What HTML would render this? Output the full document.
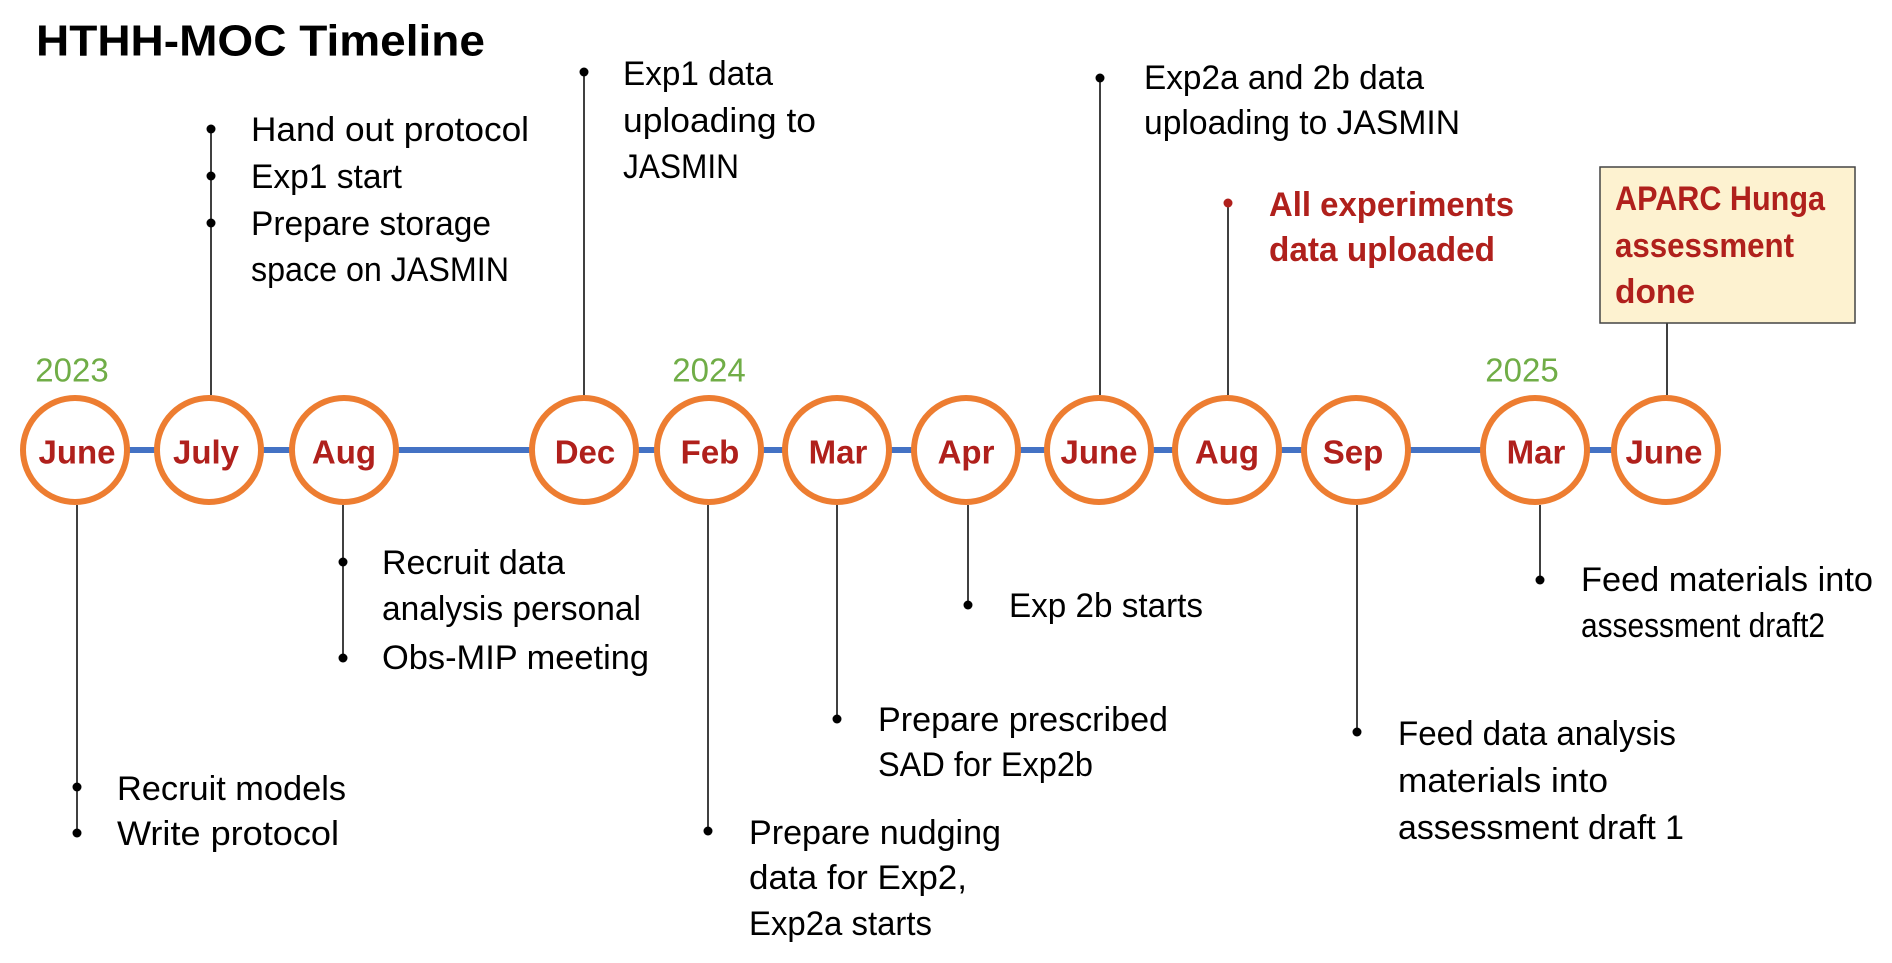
<!DOCTYPE html>
<html><head><meta charset="utf-8"><style>
html,body{margin:0;padding:0;background:#fff;width:1892px;height:963px;overflow:hidden}
svg text{font-family:"Liberation Sans",sans-serif}
.b{font-size:34px;fill:#000}
.r{font-size:34px;fill:#B0201C;font-weight:bold}
.m{font-size:33px;fill:#B0201C;font-weight:bold}
.y{font-size:33px;fill:#70AD47}
</style></head><body>
<svg width="1892" height="963" xmlns="http://www.w3.org/2000/svg">
<text x="36" y="41" dominant-baseline="central" style="font-size:44px;font-weight:bold" textLength="449" lengthAdjust="spacingAndGlyphs">HTHH-MOC Timeline</text>
<line x1="75" y1="450" x2="1666" y2="450" stroke="#4472C4" stroke-width="6"/>
<g stroke="#000" stroke-width="1.5">
<line x1="211" y1="129" x2="211" y2="395"/>
<line x1="584" y1="72" x2="584" y2="395"/>
<line x1="1100" y1="78" x2="1100" y2="395"/>
<line x1="1228" y1="203" x2="1228" y2="395"/>
<line x1="1667" y1="323" x2="1667" y2="395"/>
<line x1="77" y1="505" x2="77" y2="833"/>
<line x1="343" y1="505" x2="343" y2="658"/>
<line x1="708" y1="505" x2="708" y2="831"/>
<line x1="837" y1="505" x2="837" y2="719"/>
<line x1="968" y1="505" x2="968" y2="605"/>
<line x1="1357" y1="505" x2="1357" y2="732"/>
<line x1="1540" y1="505" x2="1540" y2="580"/>
</g>
<g fill="#000">
<circle cx="211" cy="129" r="4.5"/><circle cx="211" cy="176" r="4.5"/><circle cx="211" cy="223" r="4.5"/>
<circle cx="584" cy="72" r="4.5"/><circle cx="1100" cy="78" r="4.5"/>
<circle cx="77" cy="787" r="4.5"/><circle cx="77" cy="833" r="4.5"/>
<circle cx="343" cy="562" r="4.5"/><circle cx="343" cy="658" r="4.5"/>
<circle cx="708" cy="831" r="4.5"/><circle cx="837" cy="719" r="4.5"/>
<circle cx="968" cy="605" r="4.5"/><circle cx="1357" cy="732" r="4.5"/>
<circle cx="1540" cy="580" r="4.5"/>
</g>
<circle cx="1228" cy="203" r="4.5" fill="#B0201C"/>
<rect x="1600" y="167" width="255" height="156" fill="#FDF2D0" stroke="#444" stroke-width="1.5"/>
<g fill="#fff" stroke="#ED7D31" stroke-width="6">
<circle cx="75" cy="450" r="52"/><circle cx="209" cy="450" r="52"/><circle cx="344" cy="450" r="52"/>
<circle cx="584" cy="450" r="52"/><circle cx="709" cy="450" r="52"/><circle cx="837" cy="450" r="52"/>
<circle cx="966" cy="450" r="52"/><circle cx="1099" cy="450" r="52"/><circle cx="1227" cy="450" r="52"/>
<circle cx="1356" cy="450" r="52"/><circle cx="1535" cy="450" r="52"/><circle cx="1666" cy="450" r="52"/>
</g>
<g text-anchor="middle" dominant-baseline="central">
<text class="m" x="77" y="452">June</text><text class="m" x="206" y="452">July</text><text class="m" x="344" y="452">Aug</text>
<text class="m" x="585" y="452">Dec</text><text class="m" x="710" y="452">Feb</text><text class="m" x="838" y="452">Mar</text>
<text class="m" x="966" y="452">Apr</text><text class="m" x="1099" y="452">June</text><text class="m" x="1227" y="452">Aug</text>
<text class="m" x="1353" y="452">Sep</text><text class="m" x="1536" y="452">Mar</text><text class="m" x="1664" y="452">June</text>
</g>
<g text-anchor="middle" dominant-baseline="central">
<text class="y" x="72" y="370">2023</text><text class="y" x="709" y="370">2024</text><text class="y" x="1522" y="370">2025</text>
</g>
<g dominant-baseline="central">
<text class="b" x="251" y="130" textLength="278" lengthAdjust="spacingAndGlyphs">Hand out protocol</text>
<text class="b" x="251" y="177" textLength="151" lengthAdjust="spacingAndGlyphs">Exp1 start</text>
<text class="b" x="251" y="224" textLength="240" lengthAdjust="spacingAndGlyphs">Prepare storage</text>
<text class="b" x="251" y="270" textLength="258" lengthAdjust="spacingAndGlyphs">space on JASMIN</text>
<text class="b" x="623" y="74" textLength="150" lengthAdjust="spacingAndGlyphs">Exp1 data</text>
<text class="b" x="623" y="121" textLength="193" lengthAdjust="spacingAndGlyphs">uploading to</text>
<text class="b" x="623" y="167" textLength="116" lengthAdjust="spacingAndGlyphs">JASMIN</text>
<text class="b" x="1144" y="78" textLength="280" lengthAdjust="spacingAndGlyphs">Exp2a and 2b data</text>
<text class="b" x="1144" y="123" textLength="316" lengthAdjust="spacingAndGlyphs">uploading to JASMIN</text>
<text class="r" x="1269" y="205" textLength="245" lengthAdjust="spacingAndGlyphs">All experiments</text>
<text class="r" x="1269" y="250" textLength="226" lengthAdjust="spacingAndGlyphs">data uploaded</text>
<text class="r" x="1615" y="199" textLength="210" lengthAdjust="spacingAndGlyphs">APARC Hunga</text>
<text class="r" x="1615" y="246" textLength="179" lengthAdjust="spacingAndGlyphs">assessment</text>
<text class="r" x="1615" y="292" textLength="80" lengthAdjust="spacingAndGlyphs">done</text>
<text class="b" x="117" y="789" textLength="229" lengthAdjust="spacingAndGlyphs">Recruit models</text>
<text class="b" x="117" y="834" textLength="222" lengthAdjust="spacingAndGlyphs">Write protocol</text>
<text class="b" x="382" y="563" textLength="183" lengthAdjust="spacingAndGlyphs">Recruit data</text>
<text class="b" x="382" y="609" textLength="259" lengthAdjust="spacingAndGlyphs">analysis personal</text>
<text class="b" x="382" y="658" textLength="267" lengthAdjust="spacingAndGlyphs">Obs-MIP meeting</text>
<text class="b" x="749" y="833" textLength="252" lengthAdjust="spacingAndGlyphs">Prepare nudging</text>
<text class="b" x="749" y="878" textLength="218" lengthAdjust="spacingAndGlyphs">data for Exp2,</text>
<text class="b" x="749" y="924" textLength="183" lengthAdjust="spacingAndGlyphs">Exp2a starts</text>
<text class="b" x="878" y="720" textLength="290" lengthAdjust="spacingAndGlyphs">Prepare prescribed</text>
<text class="b" x="878" y="765" textLength="215" lengthAdjust="spacingAndGlyphs">SAD for Exp2b</text>
<text class="b" x="1009" y="606" textLength="194" lengthAdjust="spacingAndGlyphs">Exp 2b starts</text>
<text class="b" x="1398" y="734" textLength="278" lengthAdjust="spacingAndGlyphs">Feed data analysis</text>
<text class="b" x="1398" y="781" textLength="210" lengthAdjust="spacingAndGlyphs">materials into</text>
<text class="b" x="1398" y="828" textLength="286" lengthAdjust="spacingAndGlyphs">assessment draft 1</text>
<text class="b" x="1581" y="580" textLength="292" lengthAdjust="spacingAndGlyphs">Feed materials into</text>
<text class="b" x="1581" y="626" textLength="244" lengthAdjust="spacingAndGlyphs">assessment draft2</text>
</g>
</svg>
</body></html>
